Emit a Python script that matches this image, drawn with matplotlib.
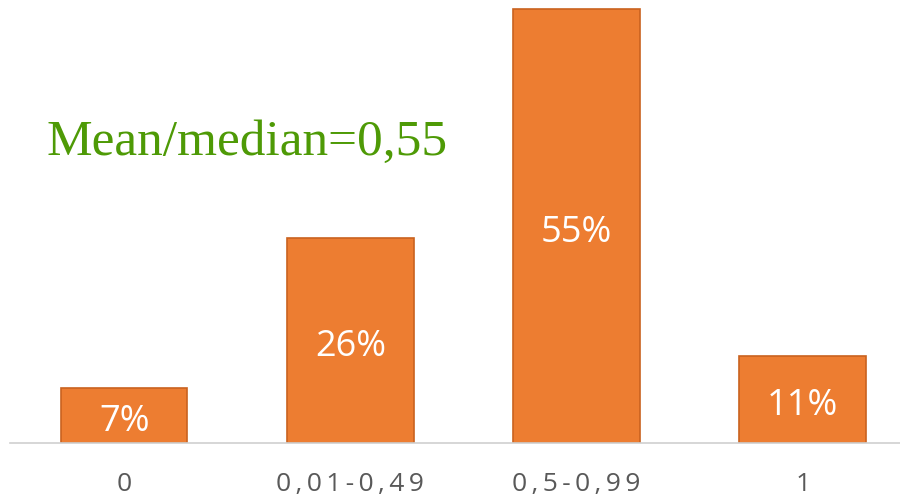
import matplotlib
matplotlib.use('Agg')
import matplotlib.pyplot as plt

categories = ['0', '0,01-0,49', '0,5-0,99', '1']
shares = [7, 26, 55, 11]
value_labels = ['7%', '26%', '55%', '11%']
note = 'Mean/median=0,55'

fig = plt.figure(figsize=(9, 5), dpi=100)
ax = fig.add_axes([0.011, 0.114, 0.989, 0.886])

x = range(len(categories))
ax.bar(x, shares, width=0.56, color='#ED7D31', edgecolor='#C9621F', linewidth=1.2, zorder=2)

for i, (v, lab) in enumerate(zip(shares, value_labels)):
    ax.text(i, v / 2 - 0.8, lab, ha='center', va='center', color='white',
            fontsize=26, family=['Open Sans', 'DejaVu Sans'])

# letter spaced tick labels, like the original
spaced = ['\u2009'.join(c) for c in categories]
ax.set_xlim(-0.505, 3.43)
ax.set_ylim(0, 56.2)
ax.set_xticks(list(x))
ax.set_xticklabels(spaced, fontsize=19, color='#595959', family=['Open Sans', 'DejaVu Sans'])
ax.tick_params(axis='x', length=0, pad=21)
ax.set_yticks([])
for side in ['top', 'right', 'left']:
    ax.spines[side].set_visible(False)
ax.spines['bottom'].set_color('#D0D0D0')
ax.spines['bottom'].set_linewidth(1.2)

fig.text(0.052, 0.715, note, fontsize=37, color='#4E9A06', family='Liberation Serif',
         ha='left', va='center')

fig.savefig('out.png', dpi=100)
